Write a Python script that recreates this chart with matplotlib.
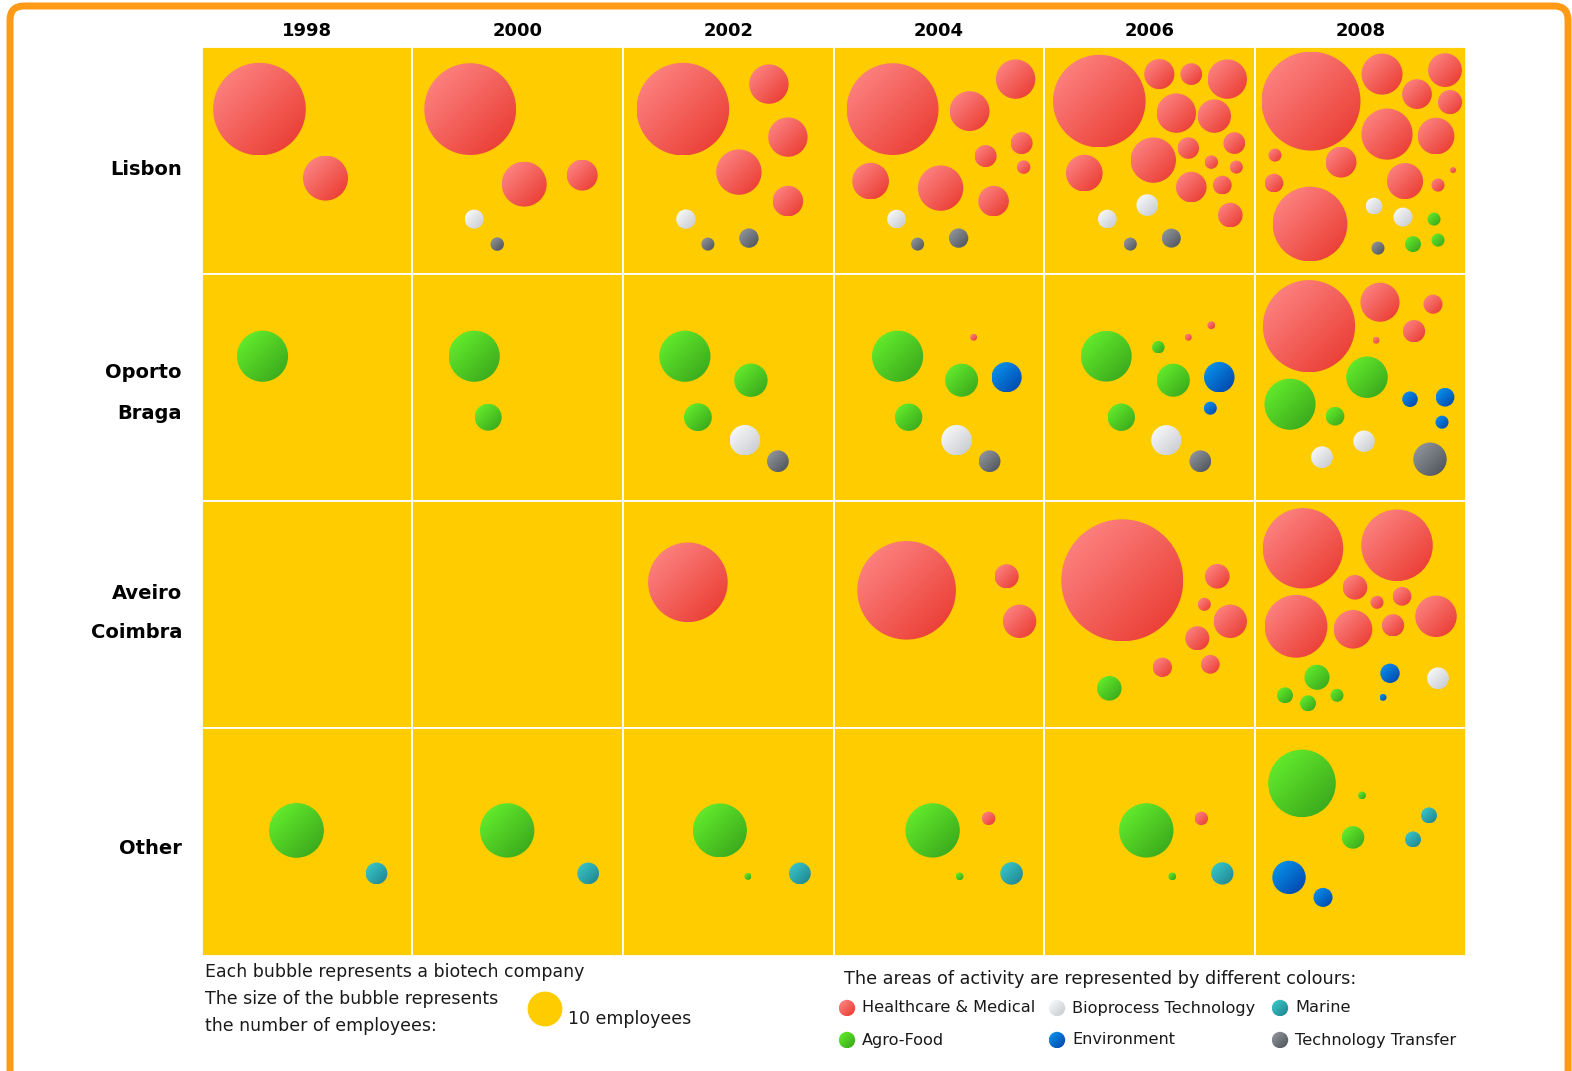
import numpy as np
import matplotlib
matplotlib.use("Agg")
import matplotlib.pyplot as plt
from matplotlib.patches import Rectangle, Circle, FancyBboxPatch
from matplotlib.colors import to_rgb

years = [1998, 2000, 2002, 2004, 2006, 2008]
regions = [["Lisbon"], ["Oporto", "Braga"], ["Aveiro", "Coimbra"], ["Other"]]

sector_names = {"H": "Healthcare & Medical", "B": "Bioprocess Technology", "M": "Marine",
                "A": "Agro-Food", "E": "Environment", "T": "Technology Transfer"}
legend_order = ["H", "B", "M", "A", "E", "T"]

# one letter per company (sector), employees per company, one entry per year
lisbon_sectors = ["HH", "HHHBT", "HHHHHBTT", "HHHHHHHHHBTT",
                  "HHHHHHHHHHHHHHHBBTT", "HHHHHHHHHHHHHHBBAAAT"]
lisbon_staff = [
    [70.8, 16.7],
    [69.6, 16.7, 7.9, 3.0, 1.5],
    [70.8, 12.8, 12.8, 17.0, 7.7, 3.1, 1.4, 3.1],
    [69.6, 12.8, 13.1, 4.0, 4.0, 1.5, 11.1, 17.0, 7.7, 2.9, 1.4, 3.1],
    [70.8, 7.5, 3.9, 12.8, 12.8, 9.2, 3.9, 3.8, 1.5, 1.4, 11.1, 17.0, 7.7, 2.9, 5.0, 3.9, 2.9, 1.4, 3.0],
    [80.9, 13.9, 9.4, 7.3, 4.8, 21.6, 11.1, 1.4, 7.9, 10.8, 0.3, 2.9, 1.4, 46.2, 2.3, 3.0, 1.4, 2.1, 1.4, 1.4],
]
oporto_sectors = ["A", "AA", "AAABT", "AHAEABT", "AHHAAEEABT", "HHHHHAAAEEEBBT"]
oporto_staff = [
    [21.6],
    [21.6, 6.0],
    [21.6, 9.2, 6.4, 7.7, 3.9],
    [21.6, 0.4, 9.0, 7.5, 6.2, 7.7, 3.9],
    [21.3, 0.5, 0.4, 1.3, 9.0, 7.7, 1.4, 6.2, 7.5, 3.9],
    [70.2, 12.6, 3.0, 4.1, 0.4, 14.2, 21.6, 2.9, 2.0, 2.9, 1.4, 3.8, 3.9, 9.2],
]
aveiro_sectors = ["", "", "H", "HHH", "HHHHHHHA", "HHHHHHHHHAAAAEEB"]
aveiro_staff = [
    [],
    [],
    [52.3],
    [80.3, 4.8, 9.2],
    [122.9, 5.0, 1.4, 9.2, 4.8, 2.9, 3.1, 5.0],
    [53.4, 42.3, 5.0, 1.4, 2.9, 32.6, 12.3, 4.1, 14.2, 5.2, 2.1, 2.1, 1.4, 3.1, 0.4, 3.9],
]
other_sectors = ["AM", "AM", "AAM", "AHAM", "AHAM", "AAMAMEE"]
other_staff = [
    [24.8, 3.9],
    [24.4, 3.9],
    [24.1, 0.4, 3.9],
    [24.4, 1.5, 0.5, 4.2],
    [24.4, 1.5, 0.5, 4.1],
    [37.7, 0.5, 2.1, 4.2, 2.1, 9.2, 3.0],
]

# where each bubble sits inside its cell (px from the cell's top-left corner)
lisbon_pos = [
    [(58, 62), (124, 131)],
    [(58, 62), (112, 137), (170, 128), (62, 172), (85, 197)],
    [(60, 62), (146, 37), (165, 90), (116, 125), (165, 154), (63, 172), (85, 197), (126, 191)],
    [(59, 62), (182, 32), (136, 64), (188, 96), (152, 109), (190, 120), (37, 134), (107, 141),
     (160, 154), (63, 172), (84, 197), (125, 191)],
    [(55, 54), (115, 27), (147, 27), (183, 32), (132, 66), (170, 69), (190, 96), (144, 101),
     (167, 115), (192, 120), (40, 126), (109, 113), (147, 140), (178, 138), (186, 168),
     (103, 158), (63, 172), (86, 197), (127, 191)],
    [(56, 54), (127, 27), (190, 23), (162, 47), (195, 55), (132, 87), (181, 89), (20, 108),
     (86, 115), (150, 134), (198, 123), (19, 136), (183, 138), (55, 177), (119, 159),
     (148, 170), (179, 172), (158, 197), (183, 193), (123, 201)],
]
oporto_pos = [
    [(61, 82)],
    [(62, 82), (76, 143)],
    [(62, 82), (128, 106), (75, 143), (122, 166), (155, 187)],
    [(64, 82), (140, 63), (128, 106), (173, 103), (75, 143), (123, 166), (156, 187)],
    [(62, 82), (167, 51), (144, 63), (114, 73), (129, 106), (175, 103), (166, 134), (77, 143),
     (122, 166), (156, 187)],
    [(54, 52), (125, 28), (178, 30), (159, 57), (121, 66), (112, 103), (35, 130), (80, 142),
     (155, 125), (190, 123), (187, 148), (109, 167), (67, 183), (175, 185)],
]
aveiro_pos = [
    [],
    [],
    [(65, 81)],
    [(73, 89), (173, 75), (186, 120)],
    [(78, 79), (173, 75), (160, 103), (186, 120), (153, 137), (166, 163), (118, 166), (65, 187)],
    [(48, 47), (142, 44), (100, 86), (122, 101), (147, 95), (41, 125), (98, 128), (138, 124),
     (181, 115), (62, 176), (30, 194), (53, 202), (82, 194), (135, 172), (128, 196), (183, 177)],
]
other_pos = [
    [(95, 102), (175, 145)],
    [(95, 102), (176, 145)],
    [(97, 102), (125, 148), (177, 145)],
    [(99, 102), (155, 90), (126, 148), (178, 145)],
    [(102, 102), (157, 90), (128, 148), (178, 145)],
    [(47, 55), (107, 67), (174, 87), (98, 109), (158, 111), (34, 149), (68, 169)],
]
# vertical offset of each row-label line from the cell centre (px)
label_dy = [[9], [-15, 26], [-21, 18], [7]]

region_sectors = [lisbon_sectors, oporto_sectors, aveiro_sectors, other_sectors]
region_staff = [lisbon_staff, oporto_staff, aveiro_staff, other_staff]
region_pos = [lisbon_pos, oporto_pos, aveiro_pos, other_pos]

# light (top-left) and dark (bottom-right) shade of each sector
shades = {
    "H": ("#ff8c8c", "#e8352a"),
    "A": ("#6af52e", "#34a01a"),
    "B": ("#ffffff", "#c3c7cc"),
    "T": ("#9a9ea4", "#494d55"),
    "E": ("#0a9cf5", "#003fa5"),
    "M": ("#3ccfcf", "#1e7f8c"),
}
CELL_YELLOW = "#ffcc00"
R10 = 17.4  # radius in px of a 10-employee bubble

fig = plt.figure(figsize=(15.72, 10.71), dpi=100)
ax = fig.add_axes([0, 0, 1, 1])
ax.set_xlim(0, 1572)
ax.set_ylim(1071, 0)
ax.axis("off")

# orange frame (bottom edge runs off the picture)
ax.add_patch(FancyBboxPatch((10, 6), 1558, 1100, boxstyle="round,pad=0,rounding_size=14",
                            facecolor="white", edgecolor="#ff9a17", linewidth=5))

grid_left, grid_top = 201.5, 47.1
cell_w, cell_h = 210.7, 227.1

u = np.linspace(0, 1, 64)
xx, yy = np.meshgrid(u, u)
tt = np.clip((xx + yy) / 2, 0, 1)


def bubble(x, y, r, sector):
    light, dark = (np.array(to_rgb(c)) for c in shades[sector])
    img = light * (1 - tt[..., None]) + dark * tt[..., None]
    clip = Circle((x, y), r, transform=ax.transData, facecolor="none", edgecolor="none")
    ax.add_patch(clip)
    im = ax.imshow(img, extent=(x - r, x + r, y + r, y - r), origin="upper",
                   interpolation="bilinear", zorder=3)
    im.set_clip_path(clip)


for ci, year in enumerate(years):
    ax.text(grid_left + (ci + 0.5) * cell_w, 31, str(year), ha="center", va="center",
            fontsize=13, fontweight="bold", color="black")
for ri, lines in enumerate(regions):
    yc = grid_top + (ri + 0.5) * cell_h
    for line, dy in zip(lines, label_dy[ri]):
        ax.text(182, yc + dy, line, ha="right", va="center", fontsize=14,
                fontweight="bold", color="black")
    for ci in range(len(years)):
        x0 = grid_left + ci * cell_w
        y0 = grid_top + ri * cell_h
        ax.add_patch(Rectangle((x0, y0), cell_w, cell_h, facecolor=CELL_YELLOW,
                               edgecolor="white", linewidth=1.3, zorder=1))
        secs = region_sectors[ri][ci]
        staff = region_staff[ri][ci]
        pos = region_pos[ri][ci]
        for s, n, (dx, dy) in zip(secs, staff, pos):
            bubble(x0 + dx, y0 + dy, R10 * np.sqrt(n / 10), s)

# size key
txt = dict(fontsize=12.5, color="#1a1a1a", va="center", ha="left")
ax.text(205, 972, "Each bubble represents a biotech company", **txt)
ax.text(205, 999, "The size of the bubble represents", **txt)
ax.text(205, 1026, "the number of employees:", **txt)
ax.add_patch(Circle((545, 1009), R10, facecolor=CELL_YELLOW, edgecolor="none"))
ax.text(568, 1019, "10 employees", **txt)

# colour key
ax.text(844, 979, "The areas of activity are represented by different colours:",
        **{**txt, "fontsize": 12.7})
key_x = [847, 1057, 1280]
key_y = [1008, 1040]
for k, code in enumerate(legend_order):
    kx, ky = key_x[k % 3], key_y[k // 3]
    bubble(kx, ky, 8.2, code)
    ax.text(kx + 15, ky, sector_names[code], **{**txt, "fontsize": 11.6})

fig.savefig("out.png", dpi=100)
